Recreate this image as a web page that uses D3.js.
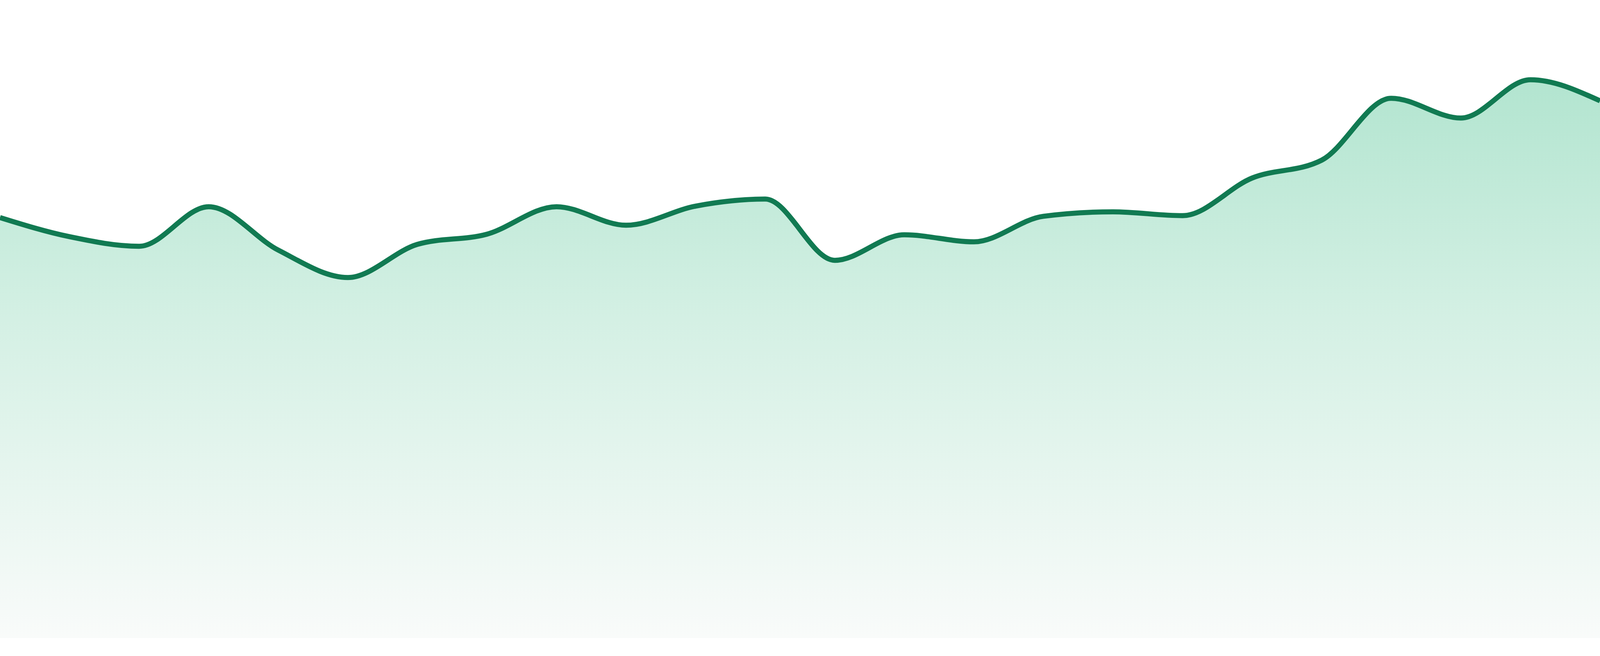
<!DOCTYPE html>
<html>
<head>
<meta charset="utf-8">
<script src="https://cdn.jsdelivr.net/npm/d3@7"></script>
<style>
  html, body { margin: 0; padding: 0; background: #fff; overflow: hidden; }
  #graf svg { display: block; }
</style>
</head>
<body>
<div id="graf"></div>
<script>
// one point per day, no labels are shown on the chart
const days = ["01", "02", "03", "04", "05", "06", "07", "08", "09", "10", "11", "12",
  "13", "14", "15", "16", "17", "18", "19", "20", "21", "22", "23", "24"]
const values = [65.9, 62.9, 61.4, 67.6, 60.8, 56.5, 61.7, 63.3, 67.6, 64.7, 67.7, 68.8,
  59.2, 63.2, 62.1, 66.1, 66.8, 66.2, 72.1, 74.9, 84.6, 81.5, 87.5, 84.2]
const yDomain = [0, 100]

const data = days.map((d, i) => ({ day: d, value: values[i] }))

// the chart fills the whole window
const anchoTotal = window.innerWidth
const altoTotal = window.innerHeight
const margins = { left: 0, top: 0, right: 0, bottom: altoTotal * 46 / 1680 }
const ancho = anchoTotal - margins.left - margins.right
const alto = altoTotal - margins.top - margins.bottom

const svg = d3.select("#graf")
  .append("svg")
  .attr("width", anchoTotal)
  .attr("height", altoTotal)

const g = svg.append("g")
  .attr("transform", `translate(${margins.left}, ${margins.top})`)

const x = d3.scalePoint().domain(days).range([0, ancho])
const y = d3.scaleLinear().domain(yDomain).range([alto, 0])

const grad = svg.append("defs")
  .append("linearGradient")
  .attr("id", "fillGrad")
  .attr("gradientUnits", "userSpaceOnUse")
  .attr("x1", 0).attr("y1", 0)
  .attr("x2", 0).attr("y2", alto)
grad.append("stop").attr("offset", "0").attr("stop-color", "#a7e1c9")
grad.append("stop").attr("offset", "0.5").attr("stop-color", "#d4f0e4")
grad.append("stop").attr("offset", "1").attr("stop-color", "#f9fbfa")

const area = d3.area()
  .x((d) => x(d.day))
  .y0(alto)
  .y1((d) => y(d.value))
  .curve(d3.curveMonotoneX)

const line = d3.line()
  .x((d) => x(d.day))
  .y((d) => y(d.value))
  .curve(d3.curveMonotoneX)

g.append("path")
  .datum(data)
  .attr("d", area)
  .attr("fill", "url(#fillGrad)")

g.append("path")
  .datum(data)
  .attr("d", line)
  .attr("fill", "none")
  .attr("stroke", "#117a52")
  .attr("stroke-width", 13)
</script>
</body>
</html>
